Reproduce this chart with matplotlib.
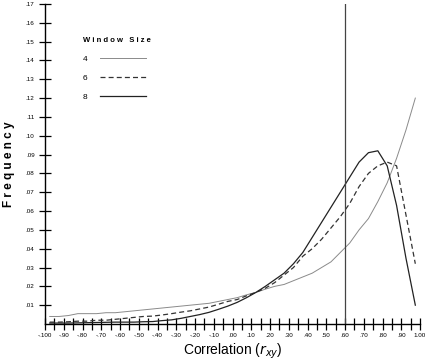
import numpy as np
import matplotlib.pyplot as plt
from matplotlib.ticker import MultipleLocator

plt.rcParams['font.family'] = ['Liberation Sans', 'DejaVu Sans']

# bin centres of the correlation histogram
r = np.arange(-0.975, 1.0, 0.05)

# window size 4 (thin grey line)
freq4 = [0.004, 0.004, 0.0045, 0.0055, 0.0055, 0.0055, 0.006, 0.006, 0.0065, 0.007,
         0.0075, 0.008, 0.0085, 0.009, 0.0095, 0.010, 0.0105, 0.011, 0.012, 0.013,
         0.014, 0.0155, 0.0168, 0.0185, 0.020, 0.021, 0.023, 0.025, 0.027, 0.030,
         0.033, 0.038, 0.043, 0.050, 0.056, 0.065, 0.075, 0.088, 0.103, 0.120]
# window size 6 (dashed)
freq6 = [0.001, 0.001, 0.0012, 0.0015, 0.0015, 0.002, 0.002, 0.0025, 0.003, 0.0035,
         0.004, 0.0042, 0.0048, 0.0055, 0.0063, 0.007, 0.008, 0.009, 0.0105, 0.012,
         0.013, 0.015, 0.0168, 0.019, 0.022, 0.026, 0.030, 0.036, 0.040, 0.045,
         0.051, 0.057, 0.064, 0.073, 0.080, 0.084, 0.086, 0.084, 0.058, 0.032]
# window size 8 (solid)
freq8 = [0.0005, 0.0005, 0.0005, 0.0006, 0.0007, 0.0008, 0.0009, 0.001, 0.001, 0.001,
         0.0012, 0.0013, 0.0018, 0.0022, 0.003, 0.004, 0.005, 0.0062, 0.0078, 0.0095,
         0.0115, 0.014, 0.0168, 0.020, 0.0235, 0.027, 0.032, 0.038, 0.046, 0.054,
         0.062, 0.070, 0.078, 0.086, 0.091, 0.092, 0.084, 0.063, 0.035, 0.010]

cutoff = 0.60

xticks = np.round(np.arange(-1.0, 1.01, 0.1), 2)
xlabels = ['-.100'] + ['-.%d0' % k for k in range(9, 0, -1)] + ['.00'] + \
          ['.%d0' % k for k in range(1, 10)] + ['1.00']
yticks = np.round(np.arange(0.01, 0.171, 0.01), 2)
ylabels = ['.%02d' % round(v * 100) for v in yticks]

fig = plt.figure(figsize=(4.33, 3.6), dpi=100)
ax = fig.add_axes([0.104, 0.1, 0.866, 0.889])

ax.plot(r, freq4, color='#8a8a8a', lw=0.7, label='4')
ax.plot(r, freq6, color='#333333', lw=0.9, ls=(0, (4, 2.5)), label='6')
ax.plot(r, freq8, color='#222222', lw=0.9, label='8')
ax.axvline(cutoff, color='#444444', lw=0.9)

ax.set_xlim(-1.0, 1.0)
ax.set_ylim(0, 0.17)
for s in ['top', 'right']:
    ax.spines[s].set_visible(False)
for s in ['left', 'bottom']:
    ax.spines[s].set_linewidth(1.0)

ax.set_xticks(xticks)
ax.set_xticklabels(xlabels)
ax.xaxis.set_minor_locator(MultipleLocator(0.05))
ax.set_yticks(yticks)
ax.set_yticklabels(ylabels)
ax.tick_params(which='both', direction='inout', length=9, width=0.9, labelsize=4.5)
ax.tick_params(axis='x', pad=2)
ax.tick_params(axis='y', pad=3)

ax.set_ylabel('F r e q u e n c y', fontsize=8.5, fontweight='bold', labelpad=8)
ax.set_xlabel('Correlation ($r_{xy}$)', fontsize=10, labelpad=3)

leg = ax.legend(title='W i n d o w   S i z e', markerfirst=False, frameon=False,
                loc='upper left', bbox_to_anchor=(0.08, 0.92), fontsize=6,
                handlelength=5.5, handletextpad=1.6, labelspacing=1.35,
                alignment='left')
leg.get_title().set_fontsize(5.5)
leg.get_title().set_fontweight('bold')

fig.savefig('out.png', dpi=100)
